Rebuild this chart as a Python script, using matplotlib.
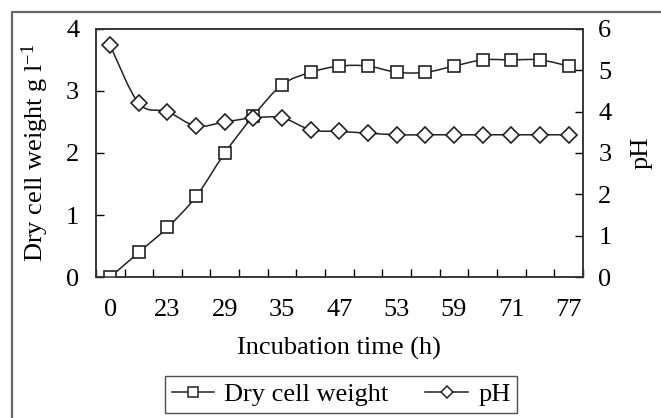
import numpy as np
import matplotlib
matplotlib.use("Agg")
import matplotlib.pyplot as plt
from matplotlib.path import Path
from matplotlib.patches import PathPatch
from matplotlib.lines import Line2D

# sampling labels (only every second one is printed on the axis)
time_labels = ["0", "", "23", "", "29", "", "35", "", "47", "",
               "53", "", "59", "", "71", "", "77"]
dry_cell_weight = [0.0, 0.4, 0.8, 1.3, 2.0, 2.6, 3.1, 3.3, 3.4, 3.4,
                   3.3, 3.3, 3.4, 3.5, 3.5, 3.5, 3.4]
ph = [5.6, 4.2, 4.0, 3.65, 3.75, 3.85, 3.85, 3.56, 3.52, 3.48,
      3.44, 3.44, 3.44, 3.44, 3.44, 3.44, 3.44]

plt.rcParams["font.family"] = ["Liberation Serif", "DejaVu Serif"]
plt.rcParams["mathtext.default"] = "regular"
FS = 19


def smooth_path(x, y):
    """Excel-like smoothed line through the points (cubic Bezier)."""
    n = len(x)
    verts = [(x[0], y[0])]
    codes = [Path.MOVETO]
    for i in range(n - 1):
        a = max(i - 1, 0)
        d = min(i + 2, n - 1)
        c1 = (x[i] + (x[i + 1] - x[a]) / 6, y[i] + (y[i + 1] - y[a]) / 6)
        c2 = (x[i + 1] - (x[d] - x[i]) / 6, y[i + 1] - (y[d] - y[i]) / 6)
        verts += [c1, c2, (x[i + 1], y[i + 1])]
        codes += [Path.CURVE4] * 3
    return Path(verts, codes)


x = np.arange(len(dry_cell_weight))

fig = plt.figure(figsize=(6.61, 4.18), dpi=100)
ax = fig.add_axes([0.145, 0.337, 0.737, 0.594])
ax2 = ax.twinx()

ax.add_patch(PathPatch(smooth_path(x, dry_cell_weight), fill=False,
                       lw=1.1, color="#222222", zorder=2))
ax.plot(x, dry_cell_weight, ls="none", marker="s", ms=8.5, mfc="white",
        mec="#222222", mew=1.2, zorder=3)
ax2.add_patch(PathPatch(smooth_path(x, ph), fill=False,
                        lw=1.1, color="#222222", zorder=2))
ax2.plot(x, ph, ls="none", marker="D", ms=8, mfc="white",
         mec="#222222", mew=1.2, zorder=3)

ax.set_xlim(-0.5, len(x) - 0.5)
ax.set_ylim(0, 4)
ax2.set_ylim(0, 6)
ax.set_yticks(range(0, 5))
ax2.set_yticks(range(0, 7))

# ticks between categories, labels on category centres
ax.set_xticks(np.arange(len(x) + 1) - 0.5)
ax.set_xticklabels([])
ax.set_xticks(x, time_labels, minor=True)
ax.tick_params(axis="x", which="minor", length=0, pad=16, labelsize=FS)
ax.tick_params(axis="x", which="major", direction="in", length=6,
               width=1.0, top=False)
ax.tick_params(axis="y", direction="in", length=6, width=1.0, pad=12,
               labelsize=FS)
ax2.tick_params(axis="y", direction="in", length=6, width=1.0, pad=11,
                labelsize=FS)

for a in (ax, ax2):
    for s in a.spines.values():
        s.set_linewidth(1.1)
        s.set_color("#333333")

ax.set_xlabel("Incubation time (h)", fontsize=FS)
ax.xaxis.set_label_coords(0.5, -0.286)
ax.xaxis.label.set_va("center")
ax.set_ylabel(r"Dry cell weight g l$^{-1}$", fontsize=FS)
ax.yaxis.set_label_coords(-0.125, 0.5)
ax.yaxis.label.set_va("center")
ax2.set_ylabel("pH", fontsize=FS, rotation=90)
ax2.yaxis.set_label_coords(1.121, 0.5)
ax2.yaxis.label.set_va("center")

handles = [
    Line2D([], [], color="#222222", lw=1.1, marker="s", ms=7, mfc="white",
           mec="#222222", mew=1.1),
    Line2D([], [], color="#222222", lw=1.1, marker="D", ms=6.5, mfc="white",
           mec="#222222", mew=1.1),
]
leg = fig.legend(handles, ["Dry cell weight", "pH"], ncol=2,
                 loc="center", bbox_to_anchor=(0.516, 0.057),
                 fontsize=FS, frameon=True, fancybox=False,
                 edgecolor="#222222", handlelength=1.6, handletextpad=0.4,
                 columnspacing=1.4, borderpad=0.25)
leg.get_frame().set_linewidth(1.0)

# outer chart-area border (left and top edges visible)
fig.add_artist(Line2D([12 / 661, 12 / 661, 1.0], [0.0, 1 - 12 / 418, 1 - 12 / 418],
                      transform=fig.transFigure, color="#666666", lw=1.6))

fig.savefig("out.png", dpi=100)
